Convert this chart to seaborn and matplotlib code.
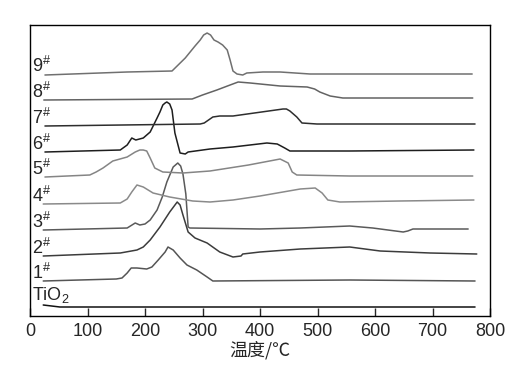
import matplotlib
matplotlib.use("Agg")
import matplotlib.pyplot as plt
import seaborn as sns

# temperature (°C) / signal (a.u., relative to each curve's own baseline)
t_tio2 = [23, 52, 774]
s_tio2 = [2, 0, 0]
t1 = [23, 150, 160, 169, 176, 186, 203, 212, 223, 235, 240, 249, 261, 273, 290, 308, 318, 556, 774]
s1 = [0, 2, 3, 8, 13, 13, 12, 14, 21, 29, 34, 31, 23, 16, 11, 4, 0, 1, 0]
t2 = [23, 157, 186, 197, 209, 226, 243, 256, 261, 266, 275, 287, 308, 330, 353, 367, 370, 400, 470, 556, 609, 696, 777]
s2 = [0, 3, 6, 9, 16, 29, 44, 54, 51, 41, 24, 18, 13, 4, -1, 0, 2, 4, 7, 9, 5, 3, 2]
t3 = [23, 169, 183, 191, 200, 209, 221, 230, 238, 249, 257, 262, 266, 271, 275, 278, 400, 470, 556, 596, 649, 657, 666, 762]
s3 = [0, 2, 7, 5, 6, 10, 20, 33, 48, 63, 67, 64, 56, 36, 3, 2, 1, 2, 4, 2, -2, -1, 1, 1]
t4 = [23, 157, 169, 177, 186, 197, 214, 243, 283, 313, 353, 400, 440, 470, 496, 508, 518, 539, 643, 772]
s4 = [0, 1, 5, 12, 19, 17, 11, 7, 3, 2, 4, 8, 12, 15, 16, 11, 4, 2, 3, 4]
t5 = [26, 104, 115, 127, 144, 169, 183, 191, 197, 203, 209, 217, 231, 266, 313, 380, 435, 449, 456, 464, 556, 770]
s5 = [0, 2, 5, 9, 16, 20, 25, 27, 27, 26, 19, 9, 5, 4, 6, 12, 18, 14, 5, 2, 1, 1]
t6 = [26, 157, 169, 177, 184, 197, 209, 221, 226, 231, 235, 238, 243, 247, 252, 261, 270, 275, 313, 353, 412, 430, 443, 452, 556, 772]
s6 = [0, 2, 7, 14, 12, 14, 20, 34, 40, 47, 49, 50, 48, 42, 19, -1, -2, 0, 3, 5, 9, 8, 4, 1, 1, 2]
t7 = [26, 296, 303, 308, 318, 330, 353, 440, 446, 452, 464, 473, 499, 774]
s7 = [0, 2, 3, 5, 9, 10, 10, 17, 17, 15, 9, 3, 2, 2]
t8 = [24, 282, 300, 325, 348, 362, 383, 435, 482, 495, 504, 522, 544, 770]
s8 = [0, 1, 5, 10, 15, 18, 17, 14, 13, 11, 8, 4, 2, 2]
t9 = [26, 169, 247, 270, 287, 296, 302, 308, 314, 320, 327, 335, 343, 348, 353, 360, 370, 377, 405, 435, 487, 769]
s9 = [0, 3, 4, 17, 29, 35, 40, 42, 40, 35, 33, 30, 25, 15, 4, 1, 0, 2, 3, 3, 1, 1]

labels = ["TiO$_2$", "1$^{\\#}$", "2$^{\\#}$", "3$^{\\#}$", "4$^{\\#}$",
          "5$^{\\#}$", "6$^{\\#}$", "7$^{\\#}$", "8$^{\\#}$", "9$^{\\#}$"]
offsets = [9, 35, 60, 86, 112, 139, 164, 190, 216, 241]
label_pad = [7, 2, 2, 2, 2, 2, 2, 2, 2, 3]
colors = ["#111111", "#555555", "#3c3c3c", "#5a5a5a", "#8a8a8a",
          "#858585", "#1e1e1e", "#2e2e2e", "#636363", "#707070"]

temps = [t_tio2, t1, t2, t3, t4, t5, t6, t7, t8, t9]
sigs = [s_tio2, s1, s2, s3, s4, s5, s6, s7, s8, s9]

sns.set_style("ticks")
plt.rcParams["font.family"] = ["Liberation Sans", "Noto Sans CJK SC", "DejaVu Sans"]
plt.rcParams["mathtext.fontset"] = "custom"
plt.rcParams["mathtext.rm"] = "Liberation Sans"
plt.rcParams["mathtext.it"] = "Liberation Sans"

fig = plt.figure(figsize=(5.18, 3.75), dpi=100)
ax = fig.add_axes([30 / 518, 59 / 375, 460 / 518, 291 / 375])

for t, s, off, c in zip(temps, sigs, offsets, colors):
    sns.lineplot(x=t, y=[v + off for v in s], ax=ax, color=c, lw=1.1,
                 sort=False, estimator=None)

for lab, off, pad in zip(labels, offsets, label_pad):
    ax.text(3, off + pad, lab, fontsize=13, va="baseline", ha="left")

ax.set_xlim(0, 800)
ax.set_ylim(0, 291)
ax.set_xticks(range(0, 801, 100))
ax.set_yticks([])
ax.tick_params(axis="x", direction="in", length=6, width=1, labelsize=13, pad=5)
for sp in ax.spines.values():
    sp.set_visible(True)
    sp.set_linewidth(1)
    sp.set_color("black")
ax.set_xlabel("温度/℃", fontsize=13, family=["Noto Sans CJK SC", "DejaVu Sans"], labelpad=1)

fig.savefig("out.png", dpi=100)
